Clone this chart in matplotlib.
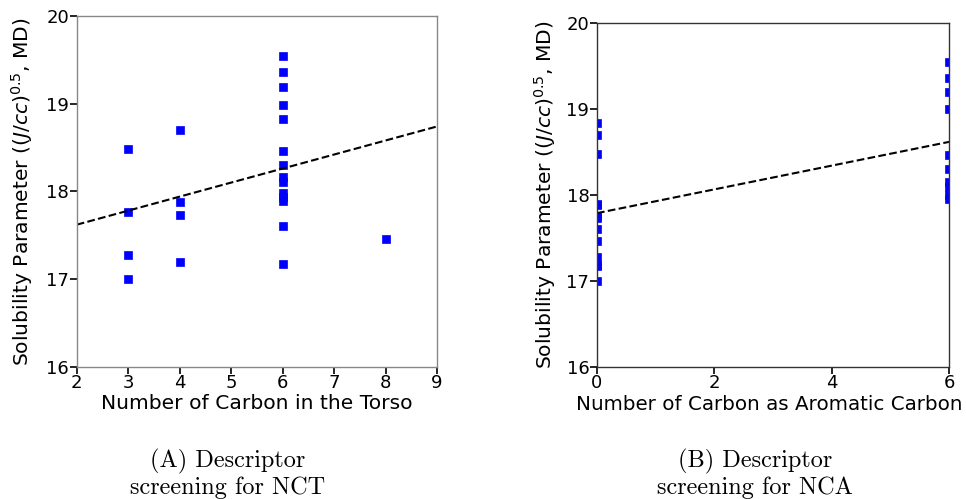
import numpy as np
import matplotlib.pyplot as plt

# panel A: number of carbon in the torso
nct_x = [3, 3, 3, 3,
         4, 4, 4, 4,
         6, 6, 6, 6, 6, 6, 6, 6, 6, 6, 6, 6, 6, 6,
         8]
nct_y = [18.48, 17.76, 17.28, 17.00,
         18.70, 17.88, 17.73, 17.19,
         19.54, 19.36, 19.19, 18.99, 18.83, 18.46, 18.30, 18.16, 18.11,
         17.98, 17.94, 17.89, 17.60, 17.17,
         17.46]
nct_fit_x = [2, 9]
nct_fit_y = [17.62, 18.74]

# panel B: number of carbon as aromatic carbon
nca_x = [0] * 13 + [6] * 10
nca_y = [18.84, 18.70, 18.48, 17.90, 17.88, 17.76, 17.73, 17.60, 17.46,
         17.28, 17.19, 17.17, 17.00,
         19.55, 19.37, 19.20, 19.00, 18.47, 18.30, 18.15, 18.10, 18.00, 17.95]
nca_fit_x = [0, 6]
nca_fit_y = [17.79, 18.62]

ylabel = 'Solubility Parameter ($(J/cc)^{0.5}$, MD)'
fs_tick = 13
fs_lab = 14.6

fig = plt.figure(figsize=(9.66, 4.99), dpi=100)
ax1 = fig.add_axes([0.0794, 0.265, 0.373, 0.703])
ax2 = fig.add_axes([0.618, 0.265, 0.3644, 0.688])

ax1.plot(nct_x, nct_y, 's', color='blue', markersize=5.5, markeredgewidth=0.5)
ax1.plot(nct_fit_x, nct_fit_y, '--', color='black', linewidth=1.5)
ax1.set_xlim(2, 9)
ax1.set_ylim(16, 20)
ax1.set_xticks(range(2, 10))
ax1.set_yticks(range(16, 21))
ax1.set_xlabel('Number of Carbon in the Torso', fontsize=fs_lab, labelpad=1)
ax1.set_ylabel(ylabel, fontsize=fs_lab, labelpad=8)

ax2.plot(nca_x, nca_y, 's', color='blue', markersize=5.5, markeredgewidth=0.5)
ax2.plot(nca_fit_x, nca_fit_y, '--', color='black', linewidth=1.5)
ax2.set_xlim(0, 6)
ax2.set_ylim(16, 20)
ax2.set_xticks([0, 2, 4, 6])
ax2.set_yticks(range(16, 21))
ax2.set_xlabel('Number of Carbon as Aromatic Carbon', fontsize=14.3)
ax2.xaxis.set_label_coords(0.49, -0.083)
ax2.set_ylabel(ylabel, fontsize=fs_lab, labelpad=6)

for ax, sc in ((ax1, '#888888'), (ax2, '#333333')):
    ax.tick_params(labelsize=fs_tick, length=5, width=1.2, direction='out',
                   top=False, right=False, pad=0.5)
    for s in ax.spines.values():
        s.set_linewidth(1.0)
        s.set_color(sc)

cap = dict(fontsize=17.5, family='cmr10', ha='center', va='center')
fig.text(228 / 966, 1 - 461 / 499, '(A) Descriptor', **cap)
fig.text(228 / 966, 1 - 488 / 499, 'screening for NCT', **cap)
fig.text(755 / 966, 1 - 461 / 499, '(B) Descriptor', **cap)
fig.text(755 / 966, 1 - 488 / 499, 'screening for NCA', **cap)

fig.savefig('out.png', dpi=100)
